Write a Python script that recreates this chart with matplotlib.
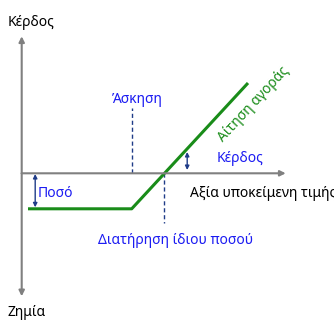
import matplotlib.pyplot as plt
import matplotlib
matplotlib.use("Agg")

# payoff of a long call (diagram units ~ pixels, origin where the axes cross)
price = [6.3, 110.0, 226.3]
payoff = [-35.5, -35.5, 90.3]
strike = 110.0
breakeven = 142.6
premium = 35.5

axis_labels = ["Κέρδος", "Ζημία", "Αξία υποκείμενη τιμής"]
line_label = "Αίτηση αγοράς"
strike_label = "Άσκηση"
breakeven_label = "Διατήρηση ίδιου ποσού"
premium_label = "Ποσό"
profit_label = "Κέρδος"

plt.rcParams['font.family'] = ['Noto Sans', 'DejaVu Sans']

blue = "#1c1cf2"
navy = "#1f3c88"
green = "#198c19"
grey = "#808080"

fig = plt.figure(figsize=(3.34, 3.27), dpi=100)
ax = fig.add_axes([0, 0, 1, 1])
ax.set_xlim(-21.7, 312.3)
ax.set_ylim(-153.7, 173.3)
ax.axis("off")

axis_arrow = dict(arrowstyle="-|>", color=grey, lw=1.5, mutation_scale=8,
                  shrinkA=0, shrinkB=0)
ax.annotate("", xy=(0, 137), xytext=(0, 0), arrowprops=axis_arrow)
ax.annotate("", xy=(0, -123), xytext=(0, 0), arrowprops=axis_arrow)
ax.annotate("", xy=(264, 0), xytext=(0, 0), arrowprops=axis_arrow)

# dashed guides
ax.plot([strike, strike], [0, 65], color=navy, lw=1, ls=(0, (3, 2)))
ax.plot([breakeven, breakeven], [0, -50], color=navy, lw=1, ls=(0, (3, 2)))

# payoff line
ax.plot(price, payoff, color=green, lw=2.2, solid_capstyle="butt")

# double arrows
dbl = dict(arrowstyle="<|-|>", color=navy, lw=1, mutation_scale=6,
           shrinkA=0, shrinkB=0)
ax.annotate("", xy=(13.5, -0.7), xytext=(13.5, -premium + 1.5), arrowprops=dbl)
ax.annotate("", xy=(165.5, 3.3), xytext=(165.5, 21.3), arrowprops=dbl)

fs = 10
ax.text(-14.5, 151, axis_labels[0], fontsize=fs, ha="left", va="center", color="black")
ax.text(-14.5, -139, axis_labels[1], fontsize=fs, ha="left", va="center", color="black")
ax.text(168, -20, axis_labels[2], fontsize=fs, ha="left", va="center", color="black")
ax.text(strike + 6, 74, strike_label, fontsize=fs, ha="center", va="center", color=blue)
ax.text(breakeven + 11, -67, breakeven_label, fontsize=fs, ha="center", va="center", color=blue)
ax.text(16, -20, premium_label, fontsize=fs, ha="left", va="center", color=blue)
ax.text(195, 15, profit_label, fontsize=fs, ha="left", va="center", color=blue)
ax.text(232, 69, line_label, fontsize=fs, ha="center", va="center", color=green,
        rotation=47, rotation_mode="anchor")

fig.savefig("out.png", dpi=100)
